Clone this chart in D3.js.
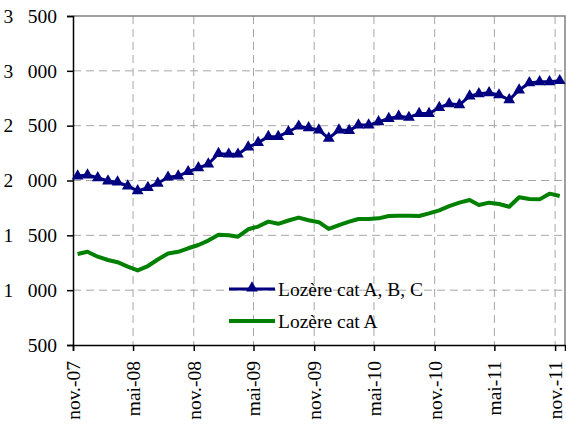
<!DOCTYPE html>
<meta charset="utf-8">
<style>
body { margin: 0; background: #fff; }
svg text { font-family: "Liberation Serif", Tinos, Times, "DejaVu Serif", serif; font-size: 19.5px; fill: #000; }
.grid line { stroke: #a6a6a6; stroke-width: 1; stroke-dasharray: 8 5; }
</style>
<svg width="566" height="425"></svg>
<script src="https://cdn.jsdelivr.net/npm/d3@7"></script>
<script>

// monthly values, nov. 2007 -> nov. 2011
var catABC = [2040, 2050, 2025, 1995, 1985, 1950, 1905, 1935, 1975, 2030, 2040, 2080, 2115,
    2150, 2245, 2240, 2240, 2305, 2345, 2400, 2400, 2445, 2495, 2480, 2460,
    2385, 2460, 2455, 2505, 2505, 2535, 2565, 2585, 2575, 2610, 2610, 2665,
    2700, 2690, 2770, 2790, 2800, 2780, 2735, 2825, 2890, 2900, 2900, 2910];

var catA = [1330, 1350, 1305, 1275, 1255, 1215, 1180, 1220, 1280, 1335, 1350, 1382, 1412,
    1452, 1505, 1500, 1488, 1555, 1580, 1625, 1605, 1635, 1662, 1638, 1620,
    1558, 1594, 1625, 1649, 1649, 1655, 1676, 1679, 1679, 1676, 1700, 1728,
    1767, 1798, 1822, 1777, 1798, 1786, 1761, 1847, 1831, 1828, 1880, 1859];

var seriesNames = ["Lozère cat A, B, C", "Lozère cat A"];

var xTickLabels = ["nov.-07", "mai-08", "nov.-08", "mai-09", "nov.-09", "mai-10", "nov.-10", "mai-11", "nov.-11"];
var yTicks = [500, 1000, 1500, 2000, 2500, 3000, 3500];

var start = new Date(2007, 10, 1), end = new Date(2011, 11, 1);
var months = d3.timeMonth.range(start, end);
var xTicks = d3.timeMonth.range(start, new Date(2011, 10, 2), 6);

var svg = d3.select("svg"),
    pLeft = 73, pTop = 16, pRight = 565, pBottom = 345;

var x = d3.scaleTime()
    .domain([start, end])
    .range([pLeft, pRight]);

var y = d3.scaleLinear()
    .domain([500, 3500])
    .range([pBottom, pTop]);

function mid(d) { return d3.timeDay.offset(d, 14); }

// grid
var grid = svg.append("g").attr("class", "grid");
grid.selectAll(".h").data(yTicks.slice(1, -1)).enter().append("line")
    .attr("x1", pLeft).attr("x2", pRight)
    .attr("y1", function (d) { return y(d); }).attr("y2", function (d) { return y(d); });
grid.selectAll(".v").data(xTicks.slice(1)).enter().append("line")
    .attr("y1", pTop).attr("y2", pBottom)
    .attr("x1", function (d) { return x(d); }).attr("x2", function (d) { return x(d); });

// plot frame
svg.append("path")
    .attr("d", "M" + pLeft + "," + pTop + "H" + pRight + "V" + pBottom)
    .attr("fill", "none").attr("stroke", "#808080").attr("stroke-width", 1.5);

// axes
var yAxis = svg.append("g")
    .attr("transform", "translate(" + pLeft + ",0)")
    .call(d3.axisLeft(y).tickValues(yTicks).tickSize(6).tickPadding(10)
        .tickFormat(function (d) { return d3.format(",")(d).replace(",", "\u00a0\u00a0\u00a0"); }));

var xAxis = svg.append("g")
    .attr("transform", "translate(0," + pBottom + ")")
    .call(d3.axisBottom(x).tickValues(xTicks).tickSize(6)
        .tickFormat(function (d, i) { return xTickLabels[i]; }));

xAxis.selectAll("text")
    .attr("transform", "rotate(-90)")
    .attr("x", -16).attr("y", 0).attr("dy", "0.33em")
    .style("text-anchor", "end");

svg.selectAll(".domain, .tick line").attr("stroke", "#000").attr("stroke-width", 1.5);
svg.selectAll("g").attr("font-family", null).attr("font-size", null);

// lines
var line = d3.line()
    .x(function (d, i) { return x(mid(months[i])); })
    .y(function (d) { return y(d); });

svg.append("path").datum(catA)
    .attr("fill", "none").attr("stroke", "#008000").attr("stroke-width", 4)
    .attr("stroke-linejoin", "round").attr("d", line);

svg.append("path").datum(catABC)
    .attr("fill", "none").attr("stroke", "#000080").attr("stroke-width", 3)
    .attr("stroke-linejoin", "round").attr("d", line);

var tri = d3.symbol().type(d3.symbolTriangle).size(60);
svg.append("g").selectAll("path").data(catABC).enter().append("path")
    .attr("d", tri)
    .attr("fill", "#000080")
    .attr("transform", function (d, i) { return "translate(" + x(mid(months[i])) + "," + y(d) + ")"; });

// legend
var legend = svg.append("g");
legend.append("line").attr("x1", 229).attr("x2", 275).attr("y1", 289).attr("y2", 289)
    .attr("stroke", "#000080").attr("stroke-width", 3);
legend.append("path").attr("d", tri).attr("fill", "#000080").attr("transform", "translate(252,288)");
legend.append("text").attr("x", 278).attr("y", 289).attr("dy", "0.35em").text(seriesNames[0]);
legend.append("line").attr("x1", 229).attr("x2", 275).attr("y1", 321).attr("y2", 321)
    .attr("stroke", "#008000").attr("stroke-width", 4);
legend.append("text").attr("x", 278).attr("y", 321).attr("dy", "0.35em").text(seriesNames[1]);

</script>
